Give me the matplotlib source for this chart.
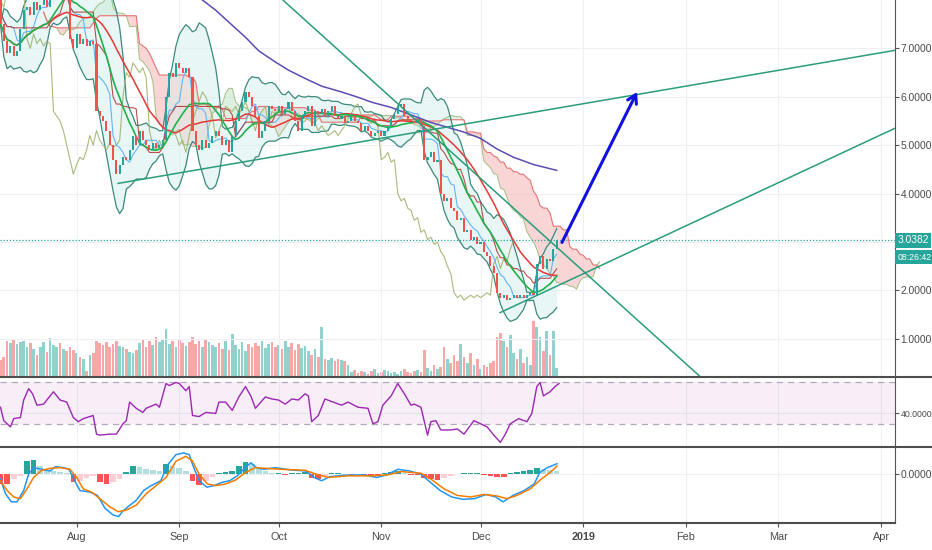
import numpy as np
import pandas as pd
import matplotlib
matplotlib.use("Agg")
import matplotlib.pyplot as plt
import matplotlib.dates as mdates
from matplotlib.lines import Line2D

''' Data read off the chart (daily) '''
start = "2018-07-09"
first_open = 8.0
closes = [
    7.5, 7.15, 6.9, 7.05, 6.85, 6.95, 7.4, 7.8,
    7.85, 7.7, 7.95, 7.8, 7.9, 8.0, 7.85,
    8.2, 8.4, 8.5, 8.3, 8.4, 8.2,
    7.2, 7.0, 7.3, 7.1, 7.2, 7.05, 7.15, 7.1,
    5.7, 5.6, 5.5, 5.3, 5.0, 4.7, 4.4, 4.6,
    4.75, 4.7, 4.9, 5.2, 5.0, 5.3, 5.1,
    5.0, 4.9, 5.05, 4.95, 5.0, 5.1,
    6.0, 6.5, 6.4, 6.7, 6.6, 6.5, 6.6, 6.4,
    5.3, 5.0, 4.9, 5.1, 4.95,
    5.05, 5.2, 5.3, 5.2, 5.0, 5.1, 4.85,
    5.2, 5.5, 5.7, 5.9, 6.1, 6.0,
    5.8, 5.6, 5.15, 5.3, 5.5, 5.8,
    5.75, 5.7, 5.8, 5.65, 5.75, 5.9, 5.7, 5.5,
    5.3, 5.6, 5.7, 5.8, 5.4, 5.7,
    5.65, 5.75, 5.6, 5.7, 5.8, 5.6,
    5.55, 5.6, 5.45, 5.5, 5.6,
    5.5, 5.45, 5.3, 5.4, 5.3, 5.2, 5.25, 5.3,
    5.2, 5.3, 5.4, 5.55, 5.65, 5.8, 5.85,
    5.6, 5.55, 5.5, 5.45, 5.55, 5.4,
    4.7, 4.75, 4.85, 4.65, 4.7,
    4.0, 3.85, 3.9, 3.7, 3.65, 3.45, 3.5,
    3.2, 3.25, 3.05, 3.1, 2.95, 3.0,
    2.8, 2.7, 2.5, 2.35, 1.95,
    1.85, 1.9, 1.8, 1.85, 1.9, 1.85,
    1.9, 1.85, 1.9, 1.95, 1.9,
    2.55, 2.7, 2.45, 2.65, 2.6, 2.85, 3.0382,
]
volume = [
    17, 20,
    36, 34, 37, 33, 35, 36, 30, 34,
    28, 22, 30, 35, 25,
    39,
    32, 30, 34, 28, 26, 30, 27, 24, 20, 18,
    6, 22, 24,
    36, 34, 32, 35, 30, 33, 36, 31, 30, 28,
    25, 24, 27,
    34, 38, 30, 36, 32, 40, 35, 37, 48,
    33, 36, 30, 38, 34, 31, 35,
    40, 33, 36, 30, 38, 35, 32,
    30, 34, 28, 36, 27, 43,
    32, 28, 35, 26, 33, 30,
    34, 31, 36, 29, 33, 35, 30,
    32, 28, 36, 30, 34, 27, 33, 29, 31,
    26, 22, 28, 20, 50,
    18, 17, 19, 16, 18, 17, 16, 12,
    5, 7, 4, 6, 5, 3, 6, 8, 4, 5, 7, 6, 4, 5, 3, 6, 8, 5, 4, 6, 7, 5,
    27,
    9, 6, 12, 8, 10,
    30,
    18, 14, 22, 16,
    33,
    20, 14, 24, 12, 18,
    8, 12, 10, 14, 16,
    40, 44, 36,
    30, 42,
    24, 18, 28, 14, 20, 12,
    56, 50,
    40, 26, 46, 22,
    46, 9,
]

# long moving average (purple), sampled along the line
purple_day = [55, 61, 65, 69, 74, 78, 83, 87, 92, 97, 103, 108, 112, 118, 125, 130, 135,
              140, 145, 150, 155, 161, 168]
purple_val = [8.4, 8.0, 7.79, 7.54, 7.23, 6.95, 6.72, 6.55, 6.38, 6.22, 6.1, 5.99, 5.89,
              5.78, 5.6, 5.47, 5.37, 5.27, 5.14, 4.92, 4.75, 4.6, 4.48]

rsi_day = [0, 1, 3, 4, 6, 7, 8.5, 9.7, 11, 13, 15, 16, 18, 20, 22, 23.5, 25, 28, 29, 30,
           33, 35, 37, 38, 39, 41, 43, 44, 47, 48, 50, 51, 53, 54, 56, 57, 58, 60, 62, 65,
           66, 68, 70, 72, 74, 75.6, 77, 80, 82, 84, 86, 88, 90, 92, 93, 94, 96, 98, 100.5, 103,
           105, 108, 111, 112.5, 114, 115.5, 118, 120, 122, 124, 125, 127, 129, 130, 131.5, 133,
           136, 138, 140, 143, 145, 147, 149, 151, 152.5, 154, 156.5, 159, 160.5, 162, 163, 164,
           166, 167.5, 168.7]
rsi_val = [46, 33, 27, 35, 36, 53, 64, 59, 48, 49, 57, 61, 53, 51, 36, 32, 35, 38, 20, 19,
           20, 20, 30, 33, 51, 45, 41, 45, 49, 46, 69, 67, 70, 69, 62, 66, 38, 37, 41, 40,
           51, 51, 43, 56, 66, 57, 45, 56, 54, 53, 49, 54, 53, 59, 57, 32, 38, 54, 51, 48,
           51, 46, 45, 30, 32, 48, 57, 69, 59, 48, 49, 46, 19, 32, 33, 24,
           24, 25, 20, 33, 30, 27, 19, 12, 20, 30, 35, 32, 40, 66, 70, 57,
           61, 66, 69]

macd_day = [0, 1.5, 3.3, 5, 7, 8.5, 10, 12.5, 15, 16.6, 19, 20.7, 22.4, 24, 27, 29.3, 31.6, 34,
            35.7, 36.8, 38.5, 41, 43.2, 45.5, 48.4, 50.6, 53, 55.3, 57, 58.2, 60, 62.3, 64.5,
            66.9, 69.2, 71.5, 73.9, 75.6, 77.3, 79.6, 83, 87.8, 92.3, 94.7, 97, 99.3, 103.8,
            109.7, 113.7, 116.6, 120, 123.6, 127, 129.3, 132.8, 136.3, 139.7, 143.2, 146.7,
            149.6, 151.8, 154.8, 158.2, 161.2, 162.9, 165.2, 168.1]
macd_val = [-0.05, -0.2, -0.283, -0.283, -0.167, 0, 0.067, 0.05, 0.033, 0.077, 0.067, 0.05,
            -0.067, -0.167, -0.183, -0.217, -0.35, -0.417, -0.433, -0.383, -0.333, -0.267,
            -0.167, -0.117, -0.067, 0.1, 0.2, 0.217, 0.2, 0.083, -0.067, -0.133, -0.117,
            -0.083, -0.067, -0.017, 0.067, 0.117, 0.067, 0.05, 0.067, 0.043, 0.033, -0.033,
            -0.067, -0.027, -0.01, -0.007, -0.033, -0.007, 0.05, 0.033, 0, -0.067, -0.167,
            -0.233, -0.257, -0.25, -0.207, -0.233, -0.283, -0.217, -0.167, -0.1, 0.017,
            0.067, 0.107]
signal_day = [0, 2, 4, 6, 8, 10, 12.5, 15, 18, 21, 23, 25, 27.5, 30, 33, 35.5, 38, 41, 44, 47,
              50, 53, 56, 58, 60, 62.5, 65, 68, 71, 74, 77, 80, 85, 92, 96, 99, 105, 112, 117,
              121, 127, 130, 134, 138, 142, 146, 150, 153, 156, 160, 163, 166, 168.1]
signal_val = [-0.067, -0.167, -0.233, -0.25, -0.15, -0.033, 0.04, 0.06, 0.067, 0.05, -0.033,
              -0.15, -0.183, -0.25, -0.333, -0.383, -0.367, -0.317, -0.2, -0.117, -0.033,
              0.133, 0.183, 0.133, 0, -0.1, -0.117, -0.1, -0.06, 0.017, 0.067, 0.06, 0.05,
              0.04, -0.007, -0.033, -0.017, -0.017, -0.007, 0.027, 0.01, -0.05, -0.15, -0.217,
              -0.233, -0.207, -0.223, -0.25, -0.217, -0.15, -0.06, 0.017, 0.083]
hist_day = list(range(0, 169, 2))
hist_val = [-0.1, -0.1, -0.05, -0.02, 0.13, 0.15, 0.08, 0.04, 0.03, 0.02,
            0.01, -0.08, -0.07, -0.04, -0.02, -0.08, -0.1, -0.08, -0.05, 0.02,
            0.08, 0.07, 0.05, 0.04, 0.03, 0.1, 0.08, 0.06, 0.03, -0.07,
            -0.11, -0.07, -0.03, 0.01, 0.02, 0.03, 0.08, 0.12, 0.1, 0.05,
            0.03, 0.01, 0.01, -0.005, 0.01, 0.01, 0.02, -0.04, -0.05, -0.02,
            0.01, 0.01, 0.005, -0.005, 0.005, -0.005, -0.01, -0.02, 0.01, 0.02,
            0.03, 0.01, -0.005, -0.01, -0.04, -0.05, -0.06, -0.04, -0.02, 0.005,
            0.01, 0.01, 0.01, -0.01, -0.02, -0.03, -0.03, 0.01, 0.02, 0.03,
            0.04, 0.06, 0.05, 0.04, 0.03]

# hand-drawn trend lines and projection arrow (day offset, price)
trend_day = [(85.3, 211.3), (35.5, 270.2), (150.9, 270.2)]
trend_val = [(8.0, 0.22), (4.21, 6.96), (1.54, 5.35)]
arrow_day = (169.6, 192.3)
arrow_val = (2.99, 6.10)

last_price = 3.0382
countdown = "08:26:42"
price_ticks = [1, 2, 3, 4, 5, 6, 7]
month_ticks = ["2018-08-01", "2018-09-01", "2018-10-01", "2018-11-01", "2018-12-01",
               "2019-01-01", "2019-02-01", "2019-03-01", "2019-04-01"]
month_labels = ["Aug", "Sep", "Oct", "Nov", "Dec", "2019", "Feb", "Mar", "Apr"]

''' Customize '''
up_c = "#26a69a"
dn_c = "#ef5350"
txt_c = "#4a4a4a"
grid_c = "#eef0f5"
sep_c = "#4d4d4d"
trend_c = "#2a9d7b"
fnt = ["Liberation Sans", "DejaVu Sans"]
fs = 7.4
fs_small = 6.3

''' Derived series '''
t0 = mdates.date2num(pd.Timestamp(start))
n = len(closes)
x = t0 + np.arange(n)
close = pd.Series(closes)
open_ = pd.Series([first_open] + closes[:-1])
hi = np.maximum(open_, close)
lo = np.minimum(open_, close)

mid = close.rolling(10, min_periods=1).mean()
sd = close.rolling(10, min_periods=2).std().fillna(0)
bb_up, bb_lo = mid + 2 * sd, mid - 2 * sd
sma_fast = close.rolling(14, min_periods=1).mean()
sma_slow = close.rolling(25, min_periods=1).mean()
tenkan = (hi.rolling(5, min_periods=1).max() + lo.rolling(5, min_periods=1).min()) / 2
kijun = (hi.rolling(13, min_periods=1).max() + lo.rolling(13, min_periods=1).min()) / 2
span_a = (tenkan + kijun) / 2
span_b = (hi.rolling(26, min_periods=1).max() + lo.rolling(26, min_periods=1).min()) / 2
shift = 13

''' Figure layout '''
fig = plt.figure(figsize=(9.32, 5.5), dpi=100)
W = 895 / 932
ax = fig.add_axes([0, 1 - 376.5 / 550, W, 376.5 / 550])
axr = fig.add_axes([0, 1 - 446.5 / 550, W, 69 / 550])
axm = fig.add_axes([0, 1 - 522.5 / 550, W, 75 / 550])
axv = ax.twinx()

month_x = mdates.date2num(pd.to_datetime(month_ticks))
for a in (ax, axr, axm):
    a.set_xlim(t0 - 0.15, t0 + 270.2)
    for s in ("top", "left", "bottom"):
        a.spines[s].set_visible(False)
    a.spines["right"].set_color("#555555")
    a.yaxis.tick_right()
    a.tick_params(axis="y", length=3, color="#555555", labelcolor=txt_c, labelsize=fs, pad=1)
    a.set_xticks(month_x)
    a.tick_params(axis="x", length=0, labelbottom=False)
    a.grid(True, color=grid_c, lw=0.8)
    a.set_axisbelow(True)

''' Volume (behind price) '''
up = (close >= open_).values
axv.bar(x, volume, width=0.8, color=np.where(up, up_c, dn_c), alpha=0.5, lw=0)
axv.set_ylim(0, 376.5)
axv.axis("off")
ax.set_zorder(axv.get_zorder() + 1)
ax.patch.set_visible(False)

''' Price panel '''
ax.set_ylim(0.22, 8.0)
# the 3.0000 label sits under the last-price tag
ax.set_yticks(price_ticks, labels=["" if p == 3 else f"{p:.4f}" for p in price_ticks],
              family=fnt)

# ichimoku cloud
xc = x + shift
ax.fill_between(xc, span_a, span_b, where=span_a >= span_b, color="#a5d6a7", alpha=0.35,
                interpolate=True, lw=0, zorder=1)
ax.fill_between(xc, span_a, span_b, where=span_a < span_b, color="#f4a3a3", alpha=0.45,
                interpolate=True, lw=0, zorder=1)
ax.plot(xc, span_a, color="#8bb56a", lw=0.7, alpha=0.8, zorder=2)
ax.plot(xc, span_b, color="#e57373", lw=0.8, zorder=2)

# bollinger bands
ax.fill_between(x, bb_lo, bb_up, color="#d3efec", alpha=0.5, lw=0, zorder=1)
ax.plot(x, bb_up, color="#3a8a7c", lw=0.9, zorder=2)
ax.plot(x, bb_lo, color="#3a8a7c", lw=0.9, zorder=2)

ax.plot(x - shift, close, color="#9fb36e", lw=0.8, alpha=0.9, zorder=2)
ax.plot(x, tenkan, color="#64b5f6", lw=0.8, zorder=2)
ax.plot(x, kijun, color="#b03030", lw=0.8, alpha=0.85, zorder=2)
ax.plot(x, sma_slow, color="#e53935", lw=1.1, zorder=2)
ax.plot(x, sma_fast, color="#22b14c", lw=1.2, zorder=2)
ax.plot(t0 + np.array(purple_day), purple_val, color="#5b4db3", lw=1.1, zorder=2)

# candles
body = (close - open_).values
body = np.where(np.abs(body) < 0.03, np.where(up, 0.03, -0.03), body)
ax.bar(x, body, bottom=open_, width=0.62, color=np.where(up, up_c, dn_c), lw=0, zorder=3)

# trend lines and projection
for (d1, d2), (p1, p2) in zip(trend_day, trend_val):
    ax.plot([t0 + d1, t0 + d2], [p1, p2], color=trend_c, lw=1.1, zorder=5)
ax.annotate("", xy=(t0 + arrow_day[1], arrow_val[1]), xytext=(t0 + arrow_day[0], arrow_val[0]),
            arrowprops=dict(arrowstyle="->,head_length=0.6,head_width=0.35",
                            color="#1010e0", lw=2.2, shrinkA=0, shrinkB=0), zorder=6)

# last price line and labels
ax.axhline(last_price, color=up_c, ls=(0, (1, 1.5)), lw=0.9, zorder=5)
for txt, dy, size in ((f"{last_price:.4f}", 0, fs), (countdown, -12.2, fs_small)):
    ax.annotate(txt, xy=(1, last_price), xycoords=("axes fraction", "data"),
                xytext=(1.6, dy), textcoords="offset points", ha="left", va="center",
                color="white", size=size, family=fnt, annotation_clip=False,
                bbox=dict(boxstyle="square,pad=0.25", fc=up_c, ec="none"), zorder=7)

''' RSI panel '''
axr.set_ylim(8, 74.8)
axr.axhspan(30, 70, color="#9c27b0", alpha=0.08, lw=0)
for lvl in (30, 70):
    axr.axhline(lvl, color="#b3a6bd", ls=(0, (5, 4)), lw=0.9)
axr.plot(t0 + np.array(rsi_day), rsi_val, color="#9c27b0", lw=1.0)
axr.set_yticks([40], labels=["40.0000"], family=fnt, size=fs_small)

''' MACD panel '''
axm.set_ylim(-0.494, 0.273)
hv = np.array(hist_val)
prev = np.concatenate([[0], hv[:-1]])
hcol = np.where(hv >= 0, np.where(hv >= prev, "#26a69a", "#b2dfdb"),
                np.where(hv <= prev, "#ff5252", "#ffcdd2"))
axm.bar(t0 + np.array(hist_day), hv, width=1.7, color=hcol, lw=0)
axm.plot(t0 + np.array(macd_day), macd_val, color="#2196f3", lw=1.1)
axm.plot(t0 + np.array(signal_day), signal_val, color="#f57c00", lw=1.1)
axm.set_yticks([0], labels=["0.0000"], family=fnt)

axm.tick_params(axis="x", length=3, color="#555555", labelbottom=True,
                labelsize=fs + 0.4, labelcolor=txt_c, pad=4)
axm.set_xticklabels(month_labels, family=fnt)
for lab in axm.get_xticklabels():
    if lab.get_text() == "2019":
        lab.set_fontweight("bold")

''' Panel separators '''
for yy in (376.5, 446.5):
    fig.add_artist(Line2D([0, 1], [1 - yy / 550] * 2, transform=fig.transFigure,
                          color=sep_c, lw=1.5))
fig.add_artist(Line2D([0, W], [1 - 522.5 / 550] * 2, transform=fig.transFigure,
                      color=sep_c, lw=1.5))

fig.savefig("out.png", dpi=100)
